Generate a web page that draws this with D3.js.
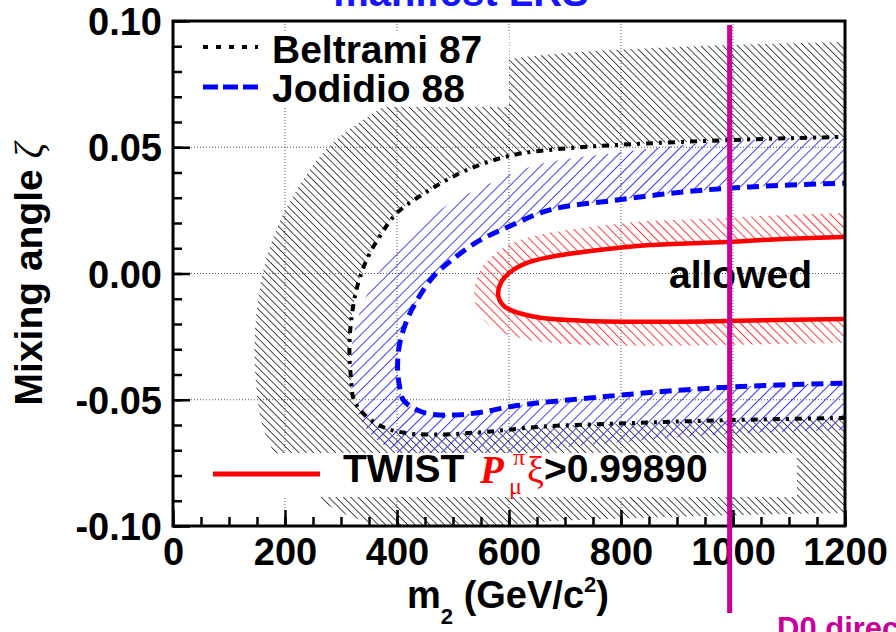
<!DOCTYPE html>
<html>
<head>
<meta charset="utf-8">
<script src="https://cdn.jsdelivr.net/npm/d3@7"></script>
<style>
  html, body { margin: 0; padding: 0; background: #fff; overflow: hidden; }
  svg { display: block; }
  text { font-family: "Liberation Sans", Arial, Helvetica, sans-serif; font-weight: bold; }
  text.serif, tspan.serif { font-family: "Liberation Serif", "Times New Roman", serif; font-weight: normal; }
  text.serif-bi { font-family: "Liberation Serif", "Times New Roman", serif; font-weight: bold; font-style: italic; }
</style>
</head>
<body>
<svg id="chart" width="896" height="632"></svg>
<script>
// ---- axis ticks and labels ----
const m2Ticks = [0, 200, 400, 600, 800, 1000, 1200];
const m2TickLabels = ["0", "200", "400", "600", "800", "1000", "1200"];
const zetaTicks = [-0.10, -0.05, 0.00, 0.05, 0.10];
const zetaTickLabels = ["-0.10", "-0.05", "0.00", "0.05", "0.10"];
const gridM2 = [200, 400, 600, 800, 1000];
const gridZeta = [-0.05, 0.00, 0.05];

// ---- exclusion contours: [m2 (GeV/c^2), zeta] ----
const beltrami87 = [
  [1250, 0.0543], [1200, 0.0541], [1000, 0.0529], [800, 0.0510], [700, 0.0495],
  [620, 0.0475], [560, 0.0440], [510, 0.0395], [454, 0.0325], [400, 0.0240],
  [370, 0.0150], [345, 0.0050], [328, -0.0060], [318, -0.0190], [315, -0.0300],
  [318, -0.0420], [323, -0.0500], [340, -0.0555], [375, -0.0608], [411, -0.0630],
  [464, -0.0638], [554, -0.0628], [661, -0.0606], [811, -0.0593], [971, -0.0582],
  [1200, -0.0572], [1250, -0.0571]
];
const jodidio88 = [
  [1250, 0.0360], [1200, 0.0358], [1030, 0.0343], [911, 0.0323], [793, 0.0291],
  [673, 0.0252], [602, 0.0188], [543, 0.0125], [495, 0.0048], [464, -0.0014],
  [436, -0.0105], [418, -0.0184], [405, -0.0275], [401, -0.0370], [404, -0.0440],
  [411, -0.0500], [436, -0.0541], [464, -0.0558], [507, -0.0560], [554, -0.0548],
  [614, -0.0523], [763, -0.0489], [911, -0.0461], [1030, -0.0446], [1200, -0.0434],
  [1250, -0.0432]
];
const twist = [
  [1250, 0.0147], [1196, 0.0145], [1089, 0.0137], [989, 0.0125], [852, 0.0113],
  [793, 0.0101], [732, 0.0085], [673, 0.0065], [632, 0.0042], [602, 0.0005],
  [586, -0.0035], [581, -0.0090], [593, -0.0133], [643, -0.0170], [732, -0.0187],
  [852, -0.0191], [989, -0.0188], [1196, -0.0180], [1250, -0.0179]
];
const d0LimitM2 = 994;

// ---- layout ----
const W = 896, H = 632;
const plot = { left: 173, right: 845, top: 21, bottom: 526 };
const svg = d3.select("#chart");
const x = d3.scaleLinear().domain([0, 1200]).range([plot.left, plot.right]);
const y = d3.scaleLinear().domain([-0.10, 0.10]).range([plot.bottom, plot.top]);

const defs = svg.append("defs");
defs.append("clipPath").attr("id", "plotClip").append("rect")
  .attr("x", plot.left).attr("y", plot.top)
  .attr("width", plot.right - plot.left).attr("height", plot.bottom - plot.top);

// hatch fill patterns
function hatch(id, spacing, angle, color, lw) {
  const p = defs.append("pattern").attr("id", id)
    .attr("patternUnits", "userSpaceOnUse")
    .attr("width", spacing).attr("height", spacing)
    .attr("patternTransform", `rotate(${angle})`);
  p.append("rect").attr("x", 0).attr("y", 0).attr("width", lw).attr("height", spacing).attr("fill", color);
}
hatch("hatchBlack", 5.2, -45, "#2a2a2a", 0.85);
hatch("hatchBlue", 7.8, 45, "#3c3cff", 1);
hatch("hatchRed", 6.4, -45, "#ff3a3a", 1);

const line = d3.line().x(d => x(d[0])).y(d => y(d[1])).curve(d3.curveCatmullRom.alpha(0.5));

// ---- grid ----
const grid = svg.append("g").attr("stroke", "#555").attr("stroke-width", 1).attr("stroke-dasharray", "1,2");
grid.selectAll("line.gx").data(gridM2).join("line")
  .attr("x1", d => x(d)).attr("x2", d => x(d)).attr("y1", plot.top).attr("y2", plot.bottom);
grid.selectAll("line.gy").data(gridZeta).join("line")
  .attr("y1", d => y(d)).attr("y2", d => y(d)).attr("x1", plot.left).attr("x2", plot.right);

// ---- hatched excluded bands on the outer side of each contour ----
const bandsG = svg.append("g").attr("clip-path", "url(#plotClip)");
function band(data, id, halfWidth, patternId) {
  const d = line(data);
  const first = data[0], last = data[data.length - 1];
  const closed = d + `L${x(1500)},${y(last[1])}L${x(1500)},${y(first[1])}Z`;
  const mask = defs.append("mask").attr("id", id).attr("maskUnits", "userSpaceOnUse")
    .attr("x", 0).attr("y", 0).attr("width", W).attr("height", H);
  mask.append("rect").attr("x", 0).attr("y", 0).attr("width", W).attr("height", H).attr("fill", "#fff");
  mask.append("path").attr("d", closed).attr("fill", "#000");
  bandsG.append("path").attr("d", d).attr("fill", "none")
    .attr("stroke", `url(#${patternId})`).attr("stroke-width", halfWidth * 2)
    .attr("stroke-linejoin", "round").attr("mask", `url(#${id})`);
}
band(beltrami87, "maskBeltrami", 95, "hatchBlack");
band(jodidio88, "maskJodidio", 47, "hatchBlue");
band(twist, "maskTwist", 24, "hatchRed");

// ---- legend boxes ----
svg.append("rect").attr("x", plot.left + 1).attr("y", 32).attr("width", 509 - plot.left - 1).attr("height", 75).attr("fill", "#fff");
svg.append("rect").attr("x", plot.left + 1).attr("y", 453).attr("width", 797 - plot.left - 1).attr("height", 44).attr("fill", "#fff");

// ---- contour lines ----
const curves = svg.append("g").attr("clip-path", "url(#plotClip)").attr("fill", "none");
curves.append("path").attr("d", line(beltrami87)).attr("stroke", "#000").attr("stroke-width", 4)
  .attr("stroke-dasharray", "7,6,3,6");
curves.append("path").attr("d", line(jodidio88)).attr("stroke", "#0000ff").attr("stroke-width", 5)
  .attr("stroke-dasharray", "12,7");
curves.append("path").attr("d", line(twist)).attr("stroke", "#ff0000").attr("stroke-width", 4.5);

svg.append("text").attr("x", 669).attr("y", 288).attr("font-size", 39).attr("fill", "#000").text("allowed");

// ---- axes ----
const xMinor = svg.append("g").attr("transform", `translate(0,${plot.bottom})`)
  .call(d3.axisBottom(x).ticks(24).tickSize(-9).tickFormat(""));
const xMajor = svg.append("g").attr("transform", `translate(0,${plot.bottom})`)
  .call(d3.axisBottom(x).tickValues(m2Ticks).tickSize(-16).tickFormat((d, i) => m2TickLabels[i]));
const yMinor = svg.append("g").attr("transform", `translate(${plot.left},0)`)
  .call(d3.axisLeft(y).ticks(20).tickSize(-9).tickFormat(""));
const yMajor = svg.append("g").attr("transform", `translate(${plot.left},0)`)
  .call(d3.axisLeft(y).tickValues(zetaTicks).tickSize(-17).tickFormat((d, i) => zetaTickLabels[i]));
[xMinor, xMajor, yMinor, yMajor].forEach(g => {
  g.select(".domain").remove();
  g.selectAll(".tick line").attr("stroke", "#000").attr("stroke-width", 2.5);
});
xMajor.selectAll(".tick text").attr("y", 39).attr("dy", 0).attr("font-size", 38).attr("fill", "#000");
yMajor.selectAll(".tick text").attr("x", -11).attr("dy", "0.36em").attr("font-size", 38).attr("fill", "#000");

svg.append("rect").attr("x", plot.left).attr("y", plot.top)
  .attr("width", plot.right - plot.left).attr("height", plot.bottom - plot.top)
  .attr("fill", "none").attr("stroke", "#000").attr("stroke-width", 3);

// ---- legend entries ----
svg.append("line").attr("x1", 203).attr("x2", 258).attr("y1", 47).attr("y2", 47)
  .attr("stroke", "#000").attr("stroke-width", 4).attr("stroke-dasharray", "5,8");
svg.append("text").attr("x", 272).attr("y", 63).attr("font-size", 39).text("Beltrami 87");
svg.append("line").attr("x1", 203).attr("x2", 258).attr("y1", 87).attr("y2", 87)
  .attr("stroke", "#0000ff").attr("stroke-width", 5).attr("stroke-dasharray", "15,5");
svg.append("text").attr("x", 272).attr("y", 102).attr("font-size", 39).text("Jodidio 88");

svg.append("line").attr("x1", 213).attr("x2", 320).attr("y1", 474).attr("y2", 474)
  .attr("stroke", "#ff0000").attr("stroke-width", 5);
svg.append("text").attr("x", 343).attr("y", 482).attr("font-size", 39).text("TWIST");
svg.append("text").attr("class", "serif-bi").attr("x", 480).attr("y", 483).attr("font-size", 39).attr("fill", "#ff0000").text("P");
svg.append("text").attr("class", "serif").attr("x", 513).attr("y", 465).attr("font-size", 24).attr("fill", "#ff0000").text("π");
svg.append("text").attr("class", "serif").attr("x", 509).attr("y", 494).attr("font-size", 24).attr("fill", "#ff0000").text("μ");
svg.append("text").attr("class", "serif").attr("x", 527).attr("y", 483).attr("font-size", 38).attr("fill", "#ff0000").text("ξ");
svg.append("text").attr("x", 544).attr("y", 482).attr("font-size", 39).text(">0.99890");

// ---- D0 direct search limit ----
const d0Color = "#c8009a";
svg.append("line").attr("x1", x(d0LimitM2)).attr("x2", x(d0LimitM2)).attr("y1", 25).attr("y2", 613)
  .attr("stroke", d0Color).attr("stroke-width", 5);
svg.append("text").attr("x", 777).attr("y", 639).attr("font-size", 31).attr("fill", d0Color).text("D0 direct search");

// ---- titles ----
svg.append("text").attr("x", 461).attr("y", 6).attr("text-anchor", "middle").attr("font-size", 40)
  .attr("fill", "#1414ff").text("manifest LRS");

const xt = svg.append("text").attr("x", 508).attr("y", 608).attr("text-anchor", "middle").attr("font-size", 38);
xt.append("tspan").text("m");
xt.append("tspan").attr("font-size", 22).attr("dy", 16).text("2");
xt.append("tspan").attr("dy", -16).text(" (GeV/c");
xt.append("tspan").attr("font-size", 22).attr("dy", -16).text("2");
xt.append("tspan").attr("dy", 16).text(")");

const yt = svg.append("text").attr("transform", "translate(42,274) rotate(-90)")
  .attr("text-anchor", "middle").attr("font-size", 39);
yt.append("tspan").text("Mixing angle ");
yt.append("tspan").attr("class", "serif").style("font-style", "italic").text("ζ");
</script>
</body>
</html>
